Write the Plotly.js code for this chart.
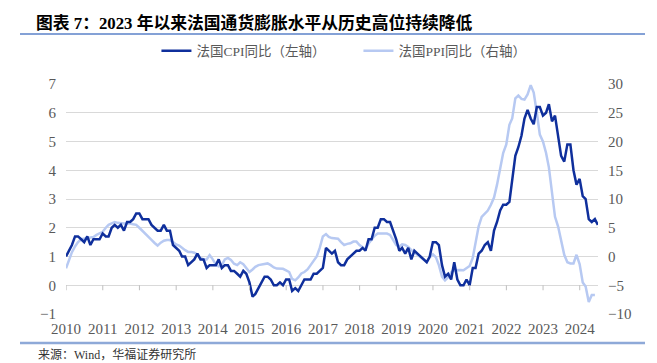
<!DOCTYPE html>
<html>
<head>
<meta charset="utf-8">
<script src="https://cdn.plot.ly/plotly-3.0.1.min.js"></script>
<style>
  html, body { margin: 0; padding: 0; background: #fff; }
  #chart { width: 657px; height: 363px; }
</style>
</head>
<body>
<div id="chart"></div>
<script>
// Monthly series, first month Dec 2009 (plotted at month end)
const startYear = 2009;
const startMonth = 12;

// 法国CPI同比 (%), Dec 2009 – Jun 2024, left axis
const cpi = [
  1.0,
  1.2, 1.4, 1.7, 1.7, 1.6, 1.5, 1.7, 1.4, 1.6, 1.6, 1.6, 1.8,
  1.7, 1.7, 2.0, 2.1, 2.0, 2.1, 1.9, 2.2, 2.2, 2.3, 2.5, 2.5,
  2.3, 2.3, 2.3, 2.1, 2.0, 1.9, 1.9, 2.1, 1.9, 1.9, 1.4, 1.3,
  1.2, 1.0, 1.0, 0.7, 0.8, 0.9, 1.1, 0.9, 0.9, 0.6, 0.7, 0.7,
  0.7, 0.9, 0.6, 0.7, 0.7, 0.5, 0.5, 0.4, 0.3, 0.5, 0.4, 0.1,
  -0.4, -0.3, -0.1, 0.1, 0.3, 0.3, 0.2, 0.0, 0.0, 0.1, 0.0, 0.2,
  0.2, -0.2, -0.1, -0.2, 0.0, 0.2, 0.2, 0.2, 0.4, 0.4, 0.5, 0.6,
  1.3, 1.2, 1.1, 1.2, 0.8, 0.7, 0.7, 0.9, 1.0, 1.1, 1.2, 1.2,
  1.3, 1.2, 1.6, 1.6, 2.0, 2.0, 2.3, 2.3, 2.2, 2.2, 1.9, 1.6,
  1.2, 1.3, 1.1, 1.3, 0.9, 1.2, 1.1, 1.0, 0.9, 0.8, 1.0, 1.5,
  1.5, 1.4, 0.7, 0.3, 0.4, 0.2, 0.8, 0.2, 0.0, 0.0, 0.2, 0.0,
  0.6, 0.6, 1.1, 1.2, 1.4, 1.5, 1.2, 1.9, 2.2, 2.6, 2.8, 2.8,
  2.9, 3.6, 4.5, 4.8, 5.2, 5.8, 6.1, 5.8, 5.6, 6.2, 6.2, 5.9,
  6.0, 6.3, 5.7, 5.9, 5.1, 4.5, 4.3, 4.9, 4.9, 4.0, 3.5, 3.7,
  3.1, 3.0, 2.3, 2.2, 2.3, 2.1
];

// 法国PPI同比 (%), Dec 2009 – May 2024, right axis
const ppi = [
  -2.05, -0.5, 0.75, 1.75, 2.5, 3.0, 3.1, 3.25, 3.3, 3.4, 3.75, 4.0,
  4.3, 5.0, 5.5, 5.75, 6.0, 5.85, 5.75, 5.75, 5.75, 5.75, 5.6, 5.5,
  5.0, 4.5, 4.0, 3.4, 2.9, 2.35, 1.9, 2.4, 2.75, 2.85, 2.85, 2.5,
  2.1, 1.9, 1.5, 1.1, 0.8, 0.8, 0.65, 0.35, -0.25, -0.5, -0.5, 0.25,
  -0.5, -1.4, -1.7, -1.5, -0.5, -0.25, -0.6, -1.25, -1.5, -1.0, -1.35, -2.1,
  -2.7, -2.25, -1.8, -1.5, -1.4, -1.35, -1.2, -1.5, -1.9, -2.1, -2.1, -2.15,
  -2.4, -2.7, -3.9, -4.15, -3.65, -2.95, -2.7, -2.25, -1.5, -0.65, 0.0, 1.5,
  3.5, 3.9, 3.4, 3.2, 3.1, 3.1, 2.5, 2.0, 2.2, 2.3, 2.6, 2.6,
  2.0, 1.6, 1.25, 2.25, 3.0, 3.6, 4.0, 4.0, 4.0, 4.0, 3.75, 2.9,
  2.0, 1.75, 2.1, 2.0, 1.65, 1.1, 0.7, 0.35, 0.0, -0.4, -0.95, -0.15,
  0.4, -0.15, -1.5, -3.5, -4.15, -3.6, -2.75, -2.4, -2.35, -2.35, -2.4, -2.1,
  -1.65, -0.25, 2.25, 5.25, 6.9, 7.5, 8.0, 9.0, 10.25, 12.5, 15.5, 18.0,
  19.5, 22.9, 24.0, 27.5, 28.0, 27.4, 27.3, 28.2, 29.8, 28.5, 25.0, 21.2,
  20.0, 18.0, 15.5, 11.5, 6.9, 5.2, 2.6, 0.3, -1.0, -1.2, -1.2, 0.3,
  -1.3, -4.5, -5.2, -7.9, -6.7, -6.7
];

const yearLabels = ['2010','2011','2012','2013','2014','2015','2016','2017',
                    '2018','2019','2020','2021','2022','2023','2024'];

const seriesNames = ['法国CPI同比（左轴）', '法国PPI同比（右轴）'];
const titleText = '图表 7：2023 年以来法国通货膨胀水平从历史高位持续降低';
const sourceText = '来源：Wind，华福证券研究所';

function monthEnds(y, m, n) {
  const out = [];
  for (let i = 0; i < n; i++) {
    const mm = (m - 1 + i) % 12 + 1;
    const yy = y + Math.floor((m - 1 + i) / 12);
    const d = new Date(Date.UTC(yy, mm, 0)).getUTCDate();
    out.push(yy + '-' + String(mm).padStart(2, '0') + '-' + String(d).padStart(2, '0'));
  }
  return out;
}

const xCpi = monthEnds(startYear, startMonth, cpi.length);
const xPpi = monthEnds(startYear, startMonth, ppi.length);
const tickVals = yearLabels.map(y => y + '-01-01');

const serif = 'Liberation Serif, "Noto Sans CJK SC", serif';
const xRange = ['2009-12-31', '2024-07-01'];

// PPI on the base (right) axis, CPI on the overlaying (left) axis so it draws on top
const traces = [
  {
    x: xCpi, y: cpi, name: seriesNames[0], type: 'scatter', mode: 'lines',
    xaxis: 'x', yaxis: 'y2',
    line: { color: '#0f2f9c', width: 2.5 }
  },
  {
    x: xPpi, y: ppi, name: seriesNames[1], type: 'scatter', mode: 'lines',
    xaxis: 'x', yaxis: 'y',
    line: { color: '#b7c9f2', width: 2.5 }
  }
];

// small tick marks hanging under the zero line of the left axis
const tickShapes = tickVals.map(v => ({
  type: 'line', xref: 'x', yref: 'y2', ysizemode: 'pixel', yanchor: 0,
  x0: v, x1: v, y0: 0, y1: -5,
  line: { color: '#bfbfbf', width: 1 }
}));

const layout = {
  width: 657, height: 363,
  margin: { l: 66, r: 59, t: 84, b: 49 },
  paper_bgcolor: '#ffffff', plot_bgcolor: '#ffffff',
  showlegend: true,
  legend: {
    orientation: 'h', x: 0.17, xanchor: 'left', y: 1.1435, yanchor: 'middle',
    traceorder: 'normal',
    font: { family: serif, size: 13.5, color: '#595959' },
    bgcolor: 'rgba(0,0,0,0)', entrywidth: 157
  },
  title: {
    text: '<b>' + titleText + '</b>',
    x: 36 / 657, xanchor: 'left', xref: 'container',
    y: 1 - 23.5 / 363, yanchor: 'middle', yref: 'container',
    font: { family: serif, size: 16.8, color: '#000000' }
  },
  xaxis: {
    type: 'date', range: xRange, tickvals: tickVals, ticktext: yearLabels,
    showgrid: false, zeroline: false, showline: false, ticks: '',
    tickfont: { family: serif, size: 15, color: '#595959' },
    ticklabelstandoff: 4
  },
  yaxis: {
    range: [-10, 30], dtick: 5, tick0: 0, side: 'right',
    showgrid: true, gridcolor: '#d9d9d9', gridwidth: 1,
    zeroline: false, showline: false, ticks: '',
    tickfont: { family: serif, size: 15, color: '#595959' },
    ticklabelstandoff: 9
  },
  yaxis2: {
    range: [-1, 7], dtick: 1, tick0: 0, overlaying: 'y', side: 'left',
    anchor: 'x', showgrid: false, zeroline: false, showline: false, ticks: '',
    tickfont: { family: serif, size: 15, color: '#595959' },
    ticklabelstandoff: 9
  },
  shapes: tickShapes.concat([
    { type: 'line', xref: 'paper', yref: 'paper',
      x0: (20 - 66) / 532, x1: (645 - 66) / 532,
      y0: (314 - 34) / 230, y1: (314 - 34) / 230,
      line: { color: '#5b82c9', width: 1.5 } },
    { type: 'line', xref: 'paper', yref: 'paper',
      x0: (20 - 66) / 532, x1: (645 - 66) / 532,
      y0: (314 - 343) / 230, y1: (314 - 343) / 230,
      line: { color: '#8ea9d8', width: 2.5 } }
  ]),
  annotations: [
    { text: sourceText, xref: 'paper', yref: 'paper',
      x: (36 - 66) / 532, xanchor: 'left', y: (314 - 354) / 230, yanchor: 'middle',
      showarrow: false, font: { family: serif, size: 12, color: '#333333' } }
  ]
};

Plotly.newPlot('chart', traces, layout, { staticPlot: true, displayModeBar: false });
</script>
</body>
</html>
